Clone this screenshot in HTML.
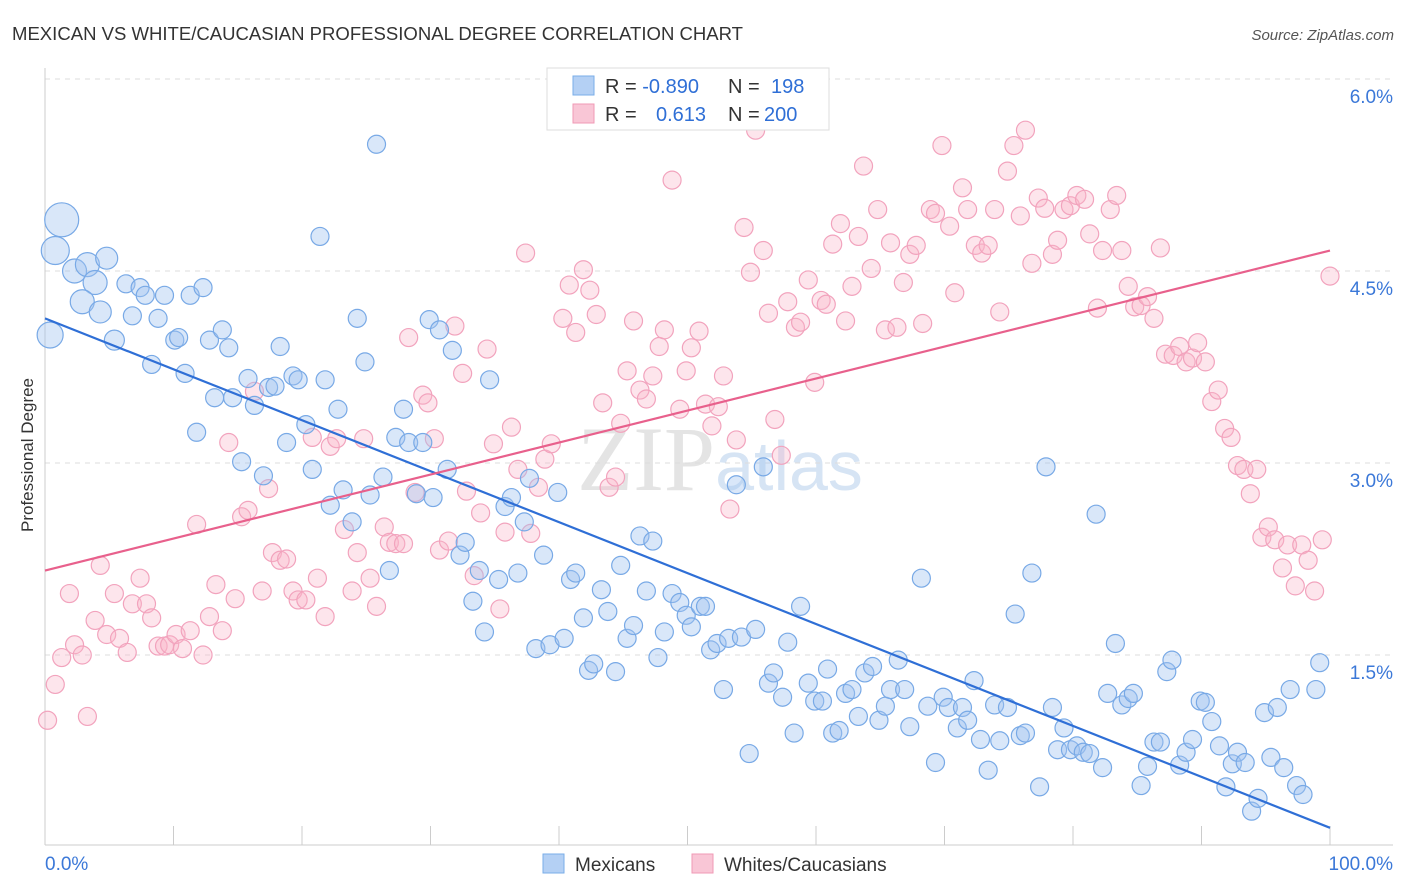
<!DOCTYPE html>
<html><head><meta charset="utf-8"><style>
body{margin:0;background:#fff;font-family:"Liberation Sans",sans-serif}
svg{display:block}
</style></head><body>
<svg id="c" width="1406" height="892" xmlns="http://www.w3.org/2000/svg">
<text x="12" y="40" font-size="18" fill="#333" textLength="731" lengthAdjust="spacingAndGlyphs">MEXICAN VS WHITE/CAUCASIAN PROFESSIONAL DEGREE CORRELATION CHART</text>
<text x="1394" y="40" font-size="15" fill="#555" font-style="italic" text-anchor="end">Source: ZipAtlas.com</text>
<text x="720" y="490" font-size="92" fill="#e4e4e4" text-anchor="middle" font-family="Liberation Serif">ZIP<tspan fill="#d6e4f4" font-family="Liberation Sans" font-size="70">atlas</tspan></text>
<text transform="translate(33,455) rotate(-90)" font-size="17" fill="#333" text-anchor="middle">Professional Degree</text>
<g id="grid"></g><g id="pts"></g><g id="lines"></g>
<g>
<rect x="547" y="68" width="282" height="62" fill="#fff" stroke="#ddd"/>
<rect x="573" y="76" width="21" height="19" fill="#b4d0f4" stroke="#7aaee8"/>
<rect x="573" y="104" width="21" height="19" fill="#f9c6d6" stroke="#f09ab5"/>
<text x="605" y="93" font-size="20" fill="#333">R = <tspan fill="#2f6fd6">-0.890</tspan><tspan x="728">N = </tspan><tspan x="771" fill="#2f6fd6">198</tspan></text>
<text x="605" y="121" font-size="20" fill="#333">R = <tspan x="656" fill="#2f6fd6">0.613</tspan><tspan x="728">N = </tspan><tspan x="764" fill="#2f6fd6">200</tspan></text>
</g>
<g>
<rect x="543" y="854" width="21" height="19" fill="#b4d0f4" stroke="#7aaee8"/>
<text x="575" y="871" font-size="19" fill="#333">Mexicans</text>
<rect x="692" y="854" width="21" height="19" fill="#f9c6d6" stroke="#f09ab5"/>
<text x="724" y="871" font-size="19" fill="#333">Whites/Caucasians</text>
</g>
</svg>
<script>
const yTicks=[1.5,3.0,4.5,6.0];
const xTickLabels=["0.0%","100.0%"];
const blueX=[1.3,0.8,0.4,2.3,3.3,3.9,2.9,4.3,4.8,5.4,6.3,6.8,7.4,7.8,8.8,9.3,10.1,10.4,11.3,12.3,8.3,10.9,12.8,13.8,14.3,11.8,13.2,14.6,15.3,15.8,16.3,17.0,17.4,17.9,18.3,18.8,19.3,19.7,20.3,20.8,21.4,21.8,22.2,22.8,23.2,23.9,24.3,24.9,25.3,25.8,26.3,26.8,27.3,27.9,28.3,28.9,29.4,29.9,30.2,30.7,31.3,31.7,32.3,32.7,33.3,33.8,34.2,34.6,35.3,35.8,36.3,36.8,37.3,37.7,38.2,38.8,39.3,39.9,40.4,40.9,41.3,41.9,42.3,42.7,43.3,43.8,44.4,44.8,45.3,45.8,46.3,46.8,47.3,47.7,48.2,48.8,49.4,49.9,50.3,51.0,51.4,51.8,52.3,52.8,53.2,53.8,54.2,54.8,55.3,55.9,56.3,56.7,57.4,57.8,58.3,58.8,59.4,59.9,60.5,60.9,61.3,61.8,62.3,62.8,63.3,63.8,64.4,64.9,65.4,65.8,66.4,66.9,67.3,68.2,68.7,69.3,69.9,70.3,71.0,71.4,71.8,72.3,72.8,73.4,73.9,74.3,74.9,75.5,75.9,76.3,76.8,77.4,77.9,78.4,78.8,79.3,79.8,80.3,80.8,81.3,81.8,82.3,82.7,83.3,83.8,84.3,84.7,85.3,85.8,86.3,86.8,87.3,87.7,88.3,88.8,89.3,89.9,90.3,90.8,91.4,91.9,92.4,92.8,93.4,93.9,94.4,94.9,95.4,95.9,96.4,96.9,97.4,97.9,98.9,99.2];
const blueY=[4.9,4.66,4.0,4.5,4.55,4.41,4.26,4.18,4.6,3.96,4.4,4.15,4.37,4.31,4.13,4.31,3.96,3.98,4.31,4.37,3.77,3.7,3.96,4.04,3.9,3.24,3.51,3.51,3.01,3.66,3.45,2.9,3.59,3.6,3.91,3.16,3.68,3.65,3.3,2.95,4.77,3.65,2.67,3.42,2.79,2.54,4.13,3.79,2.75,5.49,2.89,2.16,3.2,3.42,3.16,2.76,3.16,4.12,2.73,4.04,2.95,3.88,2.28,2.38,1.92,2.16,1.68,3.65,2.09,2.66,2.73,2.14,2.54,2.88,1.55,2.28,1.58,2.77,1.63,2.09,2.14,1.79,1.38,1.43,2.01,1.84,1.37,2.2,1.63,1.73,2.43,2.0,2.39,1.48,1.68,1.98,1.91,1.81,1.72,1.88,1.88,1.54,1.59,1.23,1.63,2.83,1.64,0.73,1.7,2.97,1.28,1.36,1.17,1.6,0.89,1.88,1.28,1.14,1.14,1.39,0.89,0.91,1.2,1.23,1.02,1.36,1.41,0.99,1.1,1.23,1.46,1.23,0.94,2.1,1.1,0.66,1.17,1.09,0.93,1.09,0.99,1.3,0.84,0.6,1.11,0.83,1.09,1.82,0.87,0.89,2.14,0.47,2.97,1.09,0.76,0.93,0.76,0.79,0.74,0.73,2.6,0.62,1.2,1.59,1.11,1.16,1.2,0.48,0.63,0.82,0.82,1.37,1.46,0.64,0.74,0.84,1.14,1.13,0.98,0.79,0.47,0.65,0.74,0.66,0.28,0.38,1.05,0.7,1.09,0.62,1.23,0.48,0.41,1.23,1.44];
const blueBig=[17,14,13,12,12,12,12,11,11,10];
const pinkX=[0.2,0.8,1.3,1.9,2.3,2.9,3.3,3.9,4.3,4.8,5.4,5.8,6.4,6.8,7.4,7.9,8.3,8.8,9.3,9.7,10.2,10.7,11.3,11.8,12.3,12.8,13.3,13.8,14.3,14.8,15.3,15.8,16.3,16.9,17.4,17.7,18.3,18.8,19.3,19.7,20.3,20.8,21.2,21.8,22.2,22.7,23.3,23.9,24.3,24.8,25.3,25.8,26.4,26.8,27.3,27.9,28.3,28.8,29.4,29.8,30.3,30.7,31.4,31.9,32.5,32.8,33.4,33.9,34.4,34.9,35.4,35.8,36.3,36.8,37.4,37.8,38.4,38.9,39.4,40.3,40.8,41.3,41.9,42.4,42.9,43.4,43.9,44.4,44.8,45.3,45.8,46.3,46.8,47.3,47.8,48.2,48.8,49.4,49.9,50.3,50.9,51.4,51.9,52.4,52.8,53.3,53.8,54.4,54.9,55.3,55.9,56.3,56.8,57.3,57.8,58.4,58.8,59.4,59.9,60.4,60.8,61.3,61.9,62.3,62.8,63.3,63.7,64.3,64.8,65.4,65.8,66.3,66.8,67.3,67.8,68.3,68.9,69.3,69.8,70.4,70.8,71.4,71.8,72.4,72.9,73.4,73.9,74.3,74.9,75.4,75.9,76.3,76.8,77.3,77.8,78.4,78.8,79.3,79.8,80.3,80.9,81.3,81.9,82.3,82.9,83.4,83.8,84.3,84.8,85.3,85.8,86.3,86.8,87.2,87.8,88.3,88.8,89.3,89.7,90.3,90.8,91.3,91.8,92.3,92.8,93.3,93.8,94.3,94.7,95.2,95.7,96.3,96.7,97.3,97.8,98.3,98.8,99.4,100,39.8];
const pinkY=[0.99,1.27,1.48,1.98,1.58,1.5,1.02,1.77,2.2,1.66,1.98,1.63,1.52,1.9,2.1,1.9,1.79,1.57,1.57,1.58,1.66,1.55,1.69,2.52,1.5,1.8,2.05,1.69,3.16,1.94,2.58,2.63,3.56,2.0,2.8,2.3,2.24,2.25,2.0,1.93,1.93,3.2,2.1,1.8,3.13,3.19,2.48,2.0,2.3,3.19,2.1,1.88,2.5,2.38,2.37,2.37,3.98,2.77,3.53,3.47,3.19,2.32,2.39,4.07,3.7,2.78,2.12,2.61,3.89,3.15,1.86,2.46,3.28,2.95,4.64,2.45,2.81,3.03,3.15,4.13,4.39,4.02,4.51,4.35,4.16,3.47,2.81,2.89,3.31,3.72,4.11,3.57,3.5,3.68,3.91,4.04,5.21,3.42,3.72,3.9,4.03,3.46,3.29,3.44,3.68,2.64,3.18,4.84,4.49,5.6,4.66,4.17,3.34,3.06,4.26,4.06,4.1,4.43,3.63,4.27,4.24,4.71,4.87,4.11,4.38,4.77,5.32,4.52,4.98,4.04,4.72,4.06,4.41,4.63,4.7,4.09,4.98,4.95,5.48,4.85,4.33,5.15,4.98,4.7,4.64,4.7,4.98,4.18,5.28,5.48,4.93,5.6,4.56,5.07,4.99,4.63,4.74,4.98,5.01,5.09,5.06,4.79,4.21,4.66,4.98,5.09,4.66,4.38,4.22,4.23,4.3,4.13,4.68,3.85,3.84,3.91,3.79,3.82,3.94,3.79,3.48,3.57,3.27,3.2,2.98,2.95,2.76,2.95,2.42,2.5,2.4,2.18,2.36,2.04,2.36,2.24,2.0,2.4,4.46,5.96];
const blueTrend=[4.13,0.15];
const pinkTrend=[2.16,4.66];
const X0=45,X1=1330,Y0=847,PPY=128;
const xs=v=>X0+v/100*(X1-X0), ys=v=>Y0-v*PPY;
const NS="http://www.w3.org/2000/svg";
function mk(t,a,p){const e=document.createElementNS(NS,t);for(const k in a)e.setAttribute(k,a[k]);p.appendChild(e);return e;}
const svg=document.getElementById('c'),grid=document.getElementById('grid'),pts=document.getElementById('pts'),lines=document.getElementById('lines');
yTicks.forEach(t=>{
 const l=mk('line',{x1:45,x2:1393,y1:ys(t),y2:ys(t),stroke:'#ddd','stroke-dasharray':'5,5'},grid);
 
 
 const tx=mk('text',{x:1393,y:ys(t)+24,'font-size':19,fill:'#3b78d8','text-anchor':'end'},svg);
 tx.textContent=t.toFixed(1)+'%';
 
 
});
const ax=mk('line',{x1:45,x2:1393,y1:845,y2:845,stroke:'#ccc'},grid);


const ay=mk('line',{x1:45,x2:45,y1:68,y2:845,stroke:'#ccc'},grid);


for(let i=0;i<=10;i++){
 const t=mk('line',{x1:xs(i*10),x2:xs(i*10),y1:826,y2:845,stroke:'#ccc'},grid);
 
 
}
[[0,45,'start'],[100,1393,'end']].forEach((d,i)=>{
 const tx=mk('text',{x:d[1],y:870,'font-size':19,fill:'#3b78d8','text-anchor':d[2]},svg);
 tx.textContent=xTickLabels[i];
 
 
});
pinkX.forEach((x,i)=>{
 const c=mk('circle',{cx:xs(x),cy:ys(pinkY[i]),r:9,fill:'rgba(248,180,200,0.35)',stroke:'#f2a3bd','stroke-width':1.2},pts);
 
 
});
blueX.forEach((x,i)=>{
 const c=mk('circle',{cx:xs(x),cy:ys(blueY[i]),r:blueBig[i]||9,fill:'rgba(160,196,240,0.4)',stroke:'#78a9e6','stroke-width':1.2},pts);
 
 
});
const bl=mk('line',{x1:xs(0),y1:ys(blueTrend[0]),x2:xs(100),y2:ys(blueTrend[1]),stroke:'#2f6fd6','stroke-width':2.2},lines);


const pl=mk('line',{x1:xs(0),y1:ys(pinkTrend[0]),x2:xs(100),y2:ys(pinkTrend[1]),stroke:'#e8608c','stroke-width':2.2},lines);


</script>
</body></html>
